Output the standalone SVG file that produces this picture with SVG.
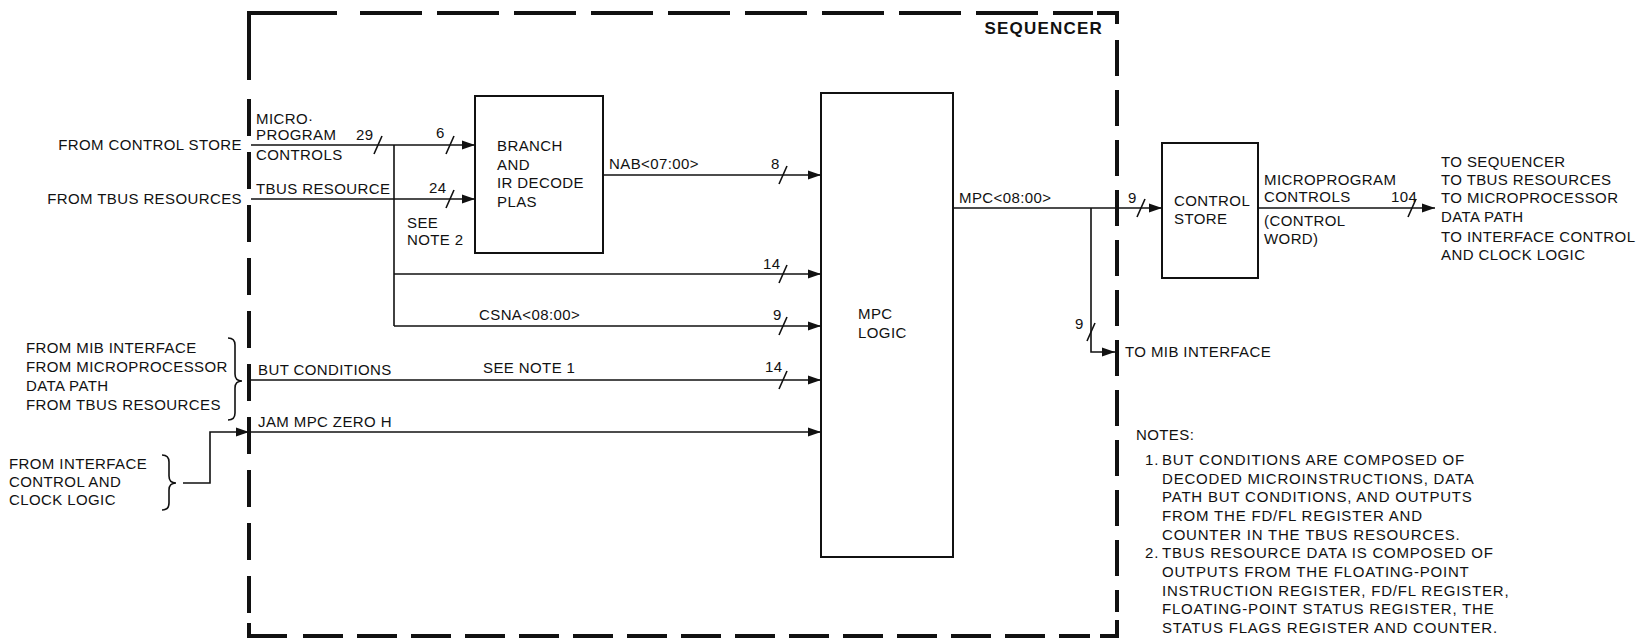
<svg xmlns="http://www.w3.org/2000/svg" width="1650" height="642" viewBox="0 0 1650 642">
<style>
text{font-family:"Liberation Sans",Arial,sans-serif;font-size:15px;letter-spacing:0.4px;fill:#111}
.b{font-weight:bold;font-size:17px;letter-spacing:1.2px}
.n{letter-spacing:0.8px}
.box{fill:#fff;stroke:#111;stroke-width:2}
.w{fill:none;stroke:#111;stroke-width:1.6}
.sl{fill:none;stroke:#111;stroke-width:1.6}
.bd{fill:none;stroke:#111;stroke-width:4}
.br{fill:none;stroke:#111;stroke-width:1.6}
</style>
<defs>
<marker id="ah" markerUnits="userSpaceOnUse" markerWidth="14" markerHeight="10" refX="13" refY="5" orient="auto">
<path d="M0,0.5 L13,5 L0,9.5 Z" fill="#111"/>
</marker>
</defs>
<rect width="1650" height="642" fill="#fff"/>

<g id="sequencer-border">
<path class="bd" d="M249,80 L249,13 L337,13"/>
<line class="bd" x1="360" y1="13" x2="1093" y2="13" stroke-dasharray="62 15"/>
<path class="bd" d="M1097,13 L1117,13 L1117,24"/>
<line class="bd" x1="1117" y1="40" x2="1117" y2="612" stroke-dasharray="36 14"/>
<path class="bd" d="M1117,620 L1117,636 L1100,636"/>
<line class="bd" x1="303" y1="636" x2="1090" y2="636" stroke-dasharray="40 14"/>
<path class="bd" d="M287,636 L249,636 L249,623"/>
<line class="bd" x1="249" y1="99" x2="249" y2="613" stroke-dasharray="37 16"/>
<text class="b" x="1103" y="34" text-anchor="end">SEQUENCER</text>
</g>

<g id="branch-plas">
<rect class="box" x="475" y="96" width="128" height="157"/>
<text x="497" y="151">BRANCH</text>
<text x="497" y="170">AND</text>
<text x="497" y="188">IR DECODE</text>
<text x="497" y="207">PLAS</text>
</g>

<g id="mpc-logic">
<rect class="box" x="821" y="93" width="132" height="464"/>
<text x="858" y="319">MPC</text>
<text x="858" y="338">LOGIC</text>
</g>

<g id="control-store">
<rect class="box" x="1162" y="143" width="96" height="135"/>
<text x="1174" y="206">CONTROL</text>
<text x="1174" y="224">STORE</text>
</g>

<g id="connectors">
<line class="w" x1="251" y1="145" x2="475" y2="145" marker-end="url(#ah)"/>
<line class="w" x1="394" y1="145" x2="394" y2="326"/>
<line class="w" x1="251" y1="199" x2="475" y2="199" marker-end="url(#ah)"/>
<line class="w" x1="603" y1="175" x2="821" y2="175" marker-end="url(#ah)"/>
<line class="w" x1="394" y1="274" x2="821" y2="274" marker-end="url(#ah)"/>
<line class="w" x1="394" y1="326" x2="821" y2="326" marker-end="url(#ah)"/>
<line class="w" x1="251" y1="380" x2="821" y2="380" marker-end="url(#ah)"/>
<line class="w" x1="251" y1="432" x2="821" y2="432" marker-end="url(#ah)"/>
<path class="w" d="M183,483 L210,483 L210,432 L249,432" marker-end="url(#ah)"/>
<line class="w" x1="953" y1="208" x2="1162" y2="208" marker-end="url(#ah)"/>
<path class="w" d="M1091,208 L1091,352 L1115,352" marker-end="url(#ah)"/>
<line class="w" x1="1258" y1="208" x2="1435" y2="208" marker-end="url(#ah)"/>
<path class="sl" d="M374,154 L382,136 M446,154 L454,136 M446,208 L454,190 M779,184 L787,166 M779,283 L787,265 M779,335 L787,317 M779,389 L787,371 M1137,217 L1145,199 M1087,341 L1095,323 M1408,217 L1416,199"/>
<path class="br" d="M228,338 Q235,338 235,345 L235,374 Q235,381 242,381 Q235,381 235,388 L235,413 Q235,420 228,420"/>
<path class="br" d="M162,455 Q169,455 169,462 L169,476 Q169,483 176,483 Q169,483 169,490 L169,503 Q169,510 162,510"/>
</g>

<g id="labels">
<text x="242" y="150" text-anchor="end">FROM CONTROL STORE</text>
<text x="242" y="204" text-anchor="end">FROM TBUS RESOURCES</text>
<text x="256" y="124">MICRO·</text>
<text x="256" y="140">PROGRAM</text>
<text x="256" y="160">CONTROLS</text>
<text x="256" y="194">TBUS RESOURCE</text>
<text x="356" y="140">29</text>
<text x="436" y="138">6</text>
<text x="429" y="193">24</text>
<text x="407" y="228">SEE</text>
<text x="407" y="245">NOTE 2</text>
<text x="609" y="169">NAB&lt;07:00&gt;</text>
<text x="771" y="169">8</text>
<text x="763" y="269">14</text>
<text x="479" y="320">CSNA&lt;08:00&gt;</text>
<text x="773" y="320">9</text>
<text x="258" y="375">BUT CONDITIONS</text>
<text x="483" y="373">SEE NOTE 1</text>
<text x="765" y="372">14</text>
<text x="258" y="427">JAM MPC ZERO H</text>
<text x="26" y="353">FROM MIB INTERFACE</text>
<text x="26" y="372">FROM MICROPROCESSOR</text>
<text x="26" y="391">DATA PATH</text>
<text x="26" y="410">FROM TBUS RESOURCES</text>
<text x="9" y="469">FROM INTERFACE</text>
<text x="9" y="487">CONTROL AND</text>
<text x="9" y="505">CLOCK LOGIC</text>
<text x="959" y="203">MPC&lt;08:00&gt;</text>
<text x="1128" y="203">9</text>
<text x="1075" y="329">9</text>
<text x="1125" y="357">TO MIB INTERFACE</text>
<text x="1264" y="185">MICROPROGRAM</text>
<text x="1264" y="202">CONTROLS</text>
<text x="1264" y="226">(CONTROL</text>
<text x="1264" y="244">WORD)</text>
<text x="1391" y="202">104</text>
<text x="1441" y="167">TO SEQUENCER</text>
<text x="1441" y="185">TO TBUS RESOURCES</text>
<text x="1441" y="203">TO MICROPROCESSOR</text>
<text x="1441" y="222">DATA PATH</text>
<text x="1441" y="242">TO INTERFACE CONTROL</text>
<text x="1441" y="260">AND CLOCK LOGIC</text>
</g>

<g id="notes">
<text x="1136" y="440">NOTES:</text>
<text class="n" x="1145" y="465">1.</text>
<text class="n" x="1162" y="465">BUT CONDITIONS ARE COMPOSED OF</text>
<text class="n" x="1162" y="484">DECODED MICROINSTRUCTIONS, DATA</text>
<text class="n" x="1162" y="502">PATH BUT CONDITIONS, AND OUTPUTS</text>
<text class="n" x="1162" y="521">FROM THE FD/FL REGISTER AND</text>
<text class="n" x="1162" y="540">COUNTER IN THE TBUS RESOURCES.</text>
<text class="n" x="1145" y="558">2.</text>
<text class="n" x="1162" y="558">TBUS RESOURCE DATA IS COMPOSED OF</text>
<text class="n" x="1162" y="577">OUTPUTS FROM THE FLOATING-POINT</text>
<text class="n" x="1162" y="596">INSTRUCTION REGISTER, FD/FL REGISTER,</text>
<text class="n" x="1162" y="614">FLOATING-POINT STATUS REGISTER, THE</text>
<text class="n" x="1162" y="633">STATUS FLAGS REGISTER AND COUNTER.</text>
</g>
</svg>
